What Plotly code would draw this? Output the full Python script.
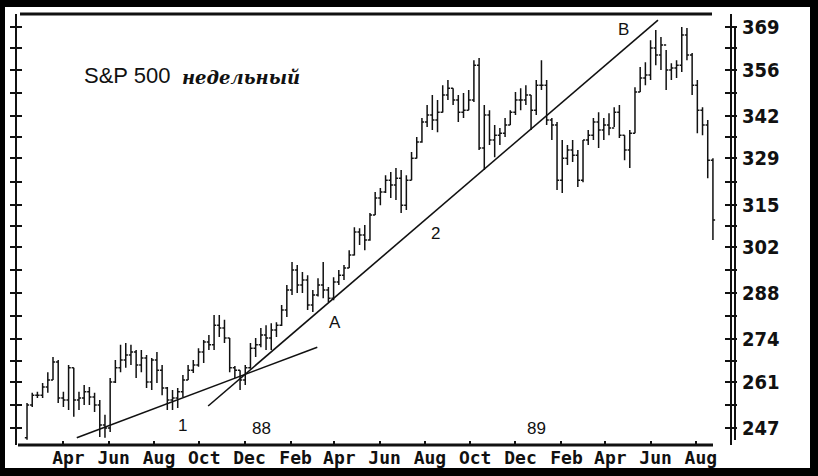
import plotly.graph_objects as go
import pandas as pd

# ---------------- data ----------------
first_week = "1988-02-12"
n_weeks = 133
weeks = pd.date_range(first_week, periods=n_weeks, freq="7D")

opens = [244.0, 254.0, 257.0, 257.0, 259.5, 261.6, 267.1, 256.1, 255.5, 265.3,
         255.5, 256.1, 258.0, 256.4, 254.0, 247.9, 247.0, 261.0, 265.3, 267.7,
         269.2, 270.1, 266.2, 268.3, 261.0, 267.7, 264.6, 259.2, 255.5, 256.1,
         258.0, 261.6, 264.6, 266.2, 270.1, 273.2, 272.3, 278.3, 277.4, 274.4,
         265.3, 264.6, 261.6, 265.3, 271.3, 272.3, 275.3, 274.4, 276.8, 278.3,
         282.9, 289.0, 295.1, 290.5, 292.0, 284.4, 287.5, 290.5, 289.0, 286.5,
         291.4, 293.5, 295.7, 299.6, 306.6, 305.7, 304.2, 311.8, 317.0, 318.8,
         322.4, 320.9, 323.0, 314.8, 322.4, 329.1, 334.0, 340.1, 342.2, 340.7,
         343.1, 348.3, 350.4, 346.8, 343.1, 343.7, 346.8, 357.4, 332.2, 342.2,
         334.6, 336.1, 336.7, 339.2, 343.1, 346.8, 346.8, 348.3, 343.7, 351.3,
         351.3, 340.7, 339.2, 322.4, 329.1, 331.6, 330.0, 322.4, 334.6, 336.1,
         340.1, 337.7, 339.2, 338.3, 343.1, 336.1, 331.6, 336.7, 349.2, 353.5,
         354.4, 362.6, 360.5, 363.5, 355.9, 356.5, 357.4, 366.6, 360.5, 351.3,
         343.7, 339.2, 328.5]
highs = [254.6, 257.7, 258.0, 260.7, 264.0, 268.6, 267.7, 258.0, 266.2, 265.3,
         258.0, 260.1, 259.5, 257.7, 255.5, 251.0, 262.2, 267.7, 272.3, 272.9,
         272.3, 270.7, 270.7, 269.2, 268.3, 270.1, 266.2, 259.5, 258.6, 259.2,
         263.1, 266.2, 267.7, 271.3, 273.8, 275.3, 281.4, 281.4, 279.9, 274.4,
         265.9, 264.6, 266.2, 272.9, 274.4, 277.4, 278.3, 278.9, 279.2, 284.4,
         290.5, 297.5, 296.6, 294.5, 293.5, 289.0, 292.6, 297.5, 289.9, 292.9,
         295.1, 296.6, 301.1, 308.1, 307.8, 308.8, 312.4, 318.8, 320.0, 323.9,
         324.9, 326.1, 325.5, 323.9, 331.0, 335.5, 341.3, 345.3, 348.3, 346.8,
         351.3, 352.9, 350.4, 348.3, 348.9, 349.8, 358.9, 359.6, 345.3, 343.7,
         339.2, 338.3, 341.3, 343.7, 349.2, 350.4, 351.3, 348.3, 352.9, 358.9,
         352.9, 341.3, 340.1, 334.6, 333.1, 334.6, 331.6, 334.6, 337.7, 341.3,
         343.1, 341.3, 342.8, 344.6, 345.3, 336.1, 337.7, 350.7, 356.8, 358.3,
         365.0, 368.1, 366.0, 362.0, 358.0, 358.9, 369.0, 368.7, 361.1, 352.9,
         344.6, 340.7, 329.1]
lows = [243.4, 253.4, 256.1, 256.1, 257.7, 261.6, 254.6, 253.4, 252.5, 250.4,
        252.5, 254.0, 254.0, 251.9, 244.3, 244.0, 245.8, 260.7, 264.0, 265.3,
        266.2, 262.2, 264.0, 259.2, 258.6, 260.7, 257.0, 252.5, 252.5, 253.1,
        256.4, 261.6, 263.7, 265.6, 266.8, 270.7, 270.7, 274.7, 272.9, 264.0,
        262.2, 258.6, 260.1, 265.0, 268.6, 271.6, 270.7, 270.7, 274.7, 278.0,
        280.8, 287.5, 288.1, 288.1, 282.9, 282.3, 287.0, 286.5, 285.3, 285.9,
        290.5, 292.0, 295.7, 299.5, 302.7, 301.1, 304.0, 311.8, 314.8, 318.5,
        317.0, 316.4, 312.4, 313.3, 322.4, 329.0, 333.8, 338.6, 337.7, 337.0,
        343.0, 346.8, 345.3, 340.1, 341.3, 343.7, 346.2, 331.6, 325.5, 333.1,
        329.4, 333.1, 335.5, 339.2, 342.2, 343.7, 345.3, 337.7, 342.2, 349.8,
        339.2, 334.6, 319.4, 318.5, 327.0, 327.9, 320.3, 321.8, 333.1, 334.6,
        332.2, 334.6, 336.1, 338.6, 335.2, 328.5, 326.1, 336.7, 349.2, 351.3,
        352.9, 357.4, 355.9, 349.8, 352.9, 353.5, 355.3, 358.9, 348.3, 336.7,
        336.1, 323.0, 304.2]
closes = [254.0, 257.0, 257.0, 259.5, 261.6, 267.1, 256.1, 255.5, 265.3, 255.5,
          256.1, 258.0, 256.4, 254.0, 247.9, 247.0, 261.0, 265.3, 267.7, 269.2,
          270.1, 266.2, 268.3, 261.0, 267.7, 264.6, 259.2, 255.5, 256.1, 258.0,
          261.6, 264.6, 266.2, 270.1, 273.2, 272.3, 278.3, 277.4, 274.4, 265.3,
          264.6, 261.6, 265.3, 271.3, 272.3, 275.3, 274.4, 276.8, 278.3, 282.9,
          289.0, 295.1, 290.5, 292.0, 284.4, 287.5, 290.5, 289.0, 286.5, 291.4,
          293.5, 295.7, 299.6, 306.6, 305.7, 304.2, 311.8, 317.0, 318.8, 322.4,
          320.9, 323.0, 314.8, 322.4, 329.1, 334.0, 340.1, 342.2, 340.7, 343.1,
          348.3, 350.4, 346.8, 343.1, 343.7, 346.8, 357.4, 332.2, 342.2, 334.6,
          336.1, 336.7, 339.2, 343.1, 346.8, 346.8, 348.3, 343.7, 351.3, 351.3,
          340.7, 339.2, 322.4, 329.1, 331.6, 330.0, 322.4, 334.6, 336.1, 340.1,
          337.7, 339.2, 338.3, 343.1, 336.1, 331.6, 336.7, 349.2, 353.5, 354.4,
          362.6, 360.5, 363.5, 355.9, 356.5, 357.4, 366.6, 360.5, 351.3, 343.7,
          339.2, 328.5, 310.3]

y_tick_labels = [247, 261, 274, 288, 302, 315, 329, 342, 356, 369]
x_tick_dates = ["1988-04-01", "1988-06-01", "1988-08-01", "1988-10-01", "1988-12-01",
                "1989-02-01", "1989-04-01", "1989-06-01", "1989-08-01", "1989-10-01",
                "1989-12-01", "1990-02-01", "1990-04-01", "1990-06-01", "1990-08-01"]
x_tick_text = ["Apr", "Jun", "Aug", "Oct", "Dec", "Feb", "Apr", "Jun", "Aug", "Oct",
               "Dec", "Feb", "Apr", "Jun", "Aug"]

# trend lines (date, value) endpoints
trend1 = [("1988-04-19", 244.0), ("1989-03-09", 271.6)]
trend2 = [("1988-10-13", 253.7), ("1990-06-11", 371.1)]

# text labels on the chart
labels = [("B", "1990-04-25", 368.1), ("A", "1989-04-02", 279.2),
          ("2", "1989-08-15", 306.3), ("1", "1988-09-08", 247.9),
          ("88", "1988-12-24", 247.0), ("89", "1989-12-29", 247.0)]

# ---------------- figure ----------------
INK = "#111111"
W, H = 818, 476
ML, MR, MT, MB = 17, 88, 14, 31
PW, PH = W - ML - MR, H - MT - MB


def px_x(p):
    return (p - ML) / PW


def px_y(p):
    return (H - MB - p) / PH


fig = go.Figure()
fig.add_trace(go.Ohlc(
    x=weeks, open=opens, high=highs, low=lows, close=closes,
    increasing=dict(line=dict(color=INK, width=1.5)),
    decreasing=dict(line=dict(color=INK, width=1.5)),
    tickwidth=0.42, hoverinfo="skip", showlegend=False,
))
# helper invisible trace for the second (tick-cross) axis
fig.add_trace(go.Scatter(x=[weeks[0]], y=[y_tick_labels[0]], yaxis="y2",
                         mode="markers", marker=dict(opacity=0), hoverinfo="skip",
                         showlegend=False))

mids = [(a + b) / 2 for a, b in zip(y_tick_labels[:-1], y_tick_labels[1:])]
yvals = sorted(y_tick_labels + mids)
ytext = [str(v) if v in y_tick_labels else "" for v in yvals]

yfont = dict(family="DejaVu Sans Condensed, DejaVu Sans Mono, sans-serif", size=20,
             color=INK, weight="bold")
yrange = [241.83, 372.96]

fig.update_layout(
    width=W, height=H,
    margin=dict(l=ML, r=MR, t=MT, b=MB, pad=0, autoexpand=False),
    paper_bgcolor="black", plot_bgcolor="white",
    showlegend=False,
    xaxis=dict(range=["1988-01-29 12:00", "1990-09-16"], rangeslider=dict(visible=False),
               automargin=False,
               tickmode="array", tickvals=x_tick_dates, ticktext=x_tick_text,
               ticks="inside", ticklen=4, tickwidth=2, tickcolor=INK,
               ticklabelshift=5,
               showgrid=False, zeroline=False, showline=False,
               tickfont=dict(family="DejaVu Sans Mono, monospace", size=18, color=INK,
                             weight="bold")),
    yaxis=dict(range=yrange, side="right", tickmode="array", tickvals=yvals, ticktext=ytext,
               automargin=False,
               ticks="outside", ticklen=5, tickwidth=2, tickcolor=INK,
               showline=True, linecolor=INK, linewidth=2, mirror="allticks",
               showgrid=False, zeroline=False, tickfont=yfont, ticklabelstandoff=1),
    yaxis2=dict(range=yrange, overlaying="y", side="right", tickmode="array",
                automargin=False,
                tickvals=yvals, ticks="inside", ticklen=5, tickwidth=2, tickcolor=INK,
                showline=False, mirror="allticks", showticklabels=False,
                showgrid=False, zeroline=False),
)

shapes = [
    # white page on black frame
    dict(type="rect", xref="paper", yref="paper", x0=px_x(5), x1=px_x(810),
         y0=px_y(468), y1=px_y(7), fillcolor="white", line=dict(width=0), layer="below"),
    # top border line
    dict(type="line", xref="paper", yref="paper", x0=px_x(20), x1=px_x(712),
         y0=1, y1=1, line=dict(color=INK, width=3)),
    # bottom x-axis line
    dict(type="line", xref="paper", yref="paper", x0=px_x(18), x1=px_x(713),
         y0=0, y1=0, line=dict(color=INK, width=3)),
    # second rail of the right axis
    dict(type="line", xref="paper", yref="paper", x0=px_x(735), x1=px_x(735),
         y0=px_y(440), y1=px_y(27), line=dict(color=INK, width=2)),
]
for tl in (trend1, trend2):
    shapes.append(dict(type="line", xref="x", yref="y", x0=tl[0][0], y0=tl[0][1],
                       x1=tl[1][0], y1=tl[1][1], line=dict(color=INK, width=1.6)))
fig.update_layout(shapes=shapes)

label_font = dict(family="Liberation Sans, Arial, sans-serif", size=17, color=INK)
for txt, d, v in labels:
    fig.add_annotation(x=d, y=v, xref="x", yref="y", text=txt, showarrow=False,
                       font=label_font, xanchor="center", yanchor="middle")

fig.add_annotation(x=px_x(82), y=px_y(75), xref="paper", yref="paper", text="S&P 500",
                   showarrow=False, xanchor="left", yanchor="middle",
                   font=dict(family="Liberation Sans, Arial, sans-serif", size=22, color=INK))
fig.add_annotation(x=px_x(180), y=px_y(77), xref="paper", yref="paper", text="недельный",
                   showarrow=False, xanchor="left", yanchor="middle",
                   font=dict(family="DejaVu Serif, serif", size=18, color=INK,
                             weight="bold", style="italic"))

fig.write_html("out.html", config={"displayModeBar": False},
               post_script="document.body.style.margin='0';document.body.style.overflow='hidden';")
